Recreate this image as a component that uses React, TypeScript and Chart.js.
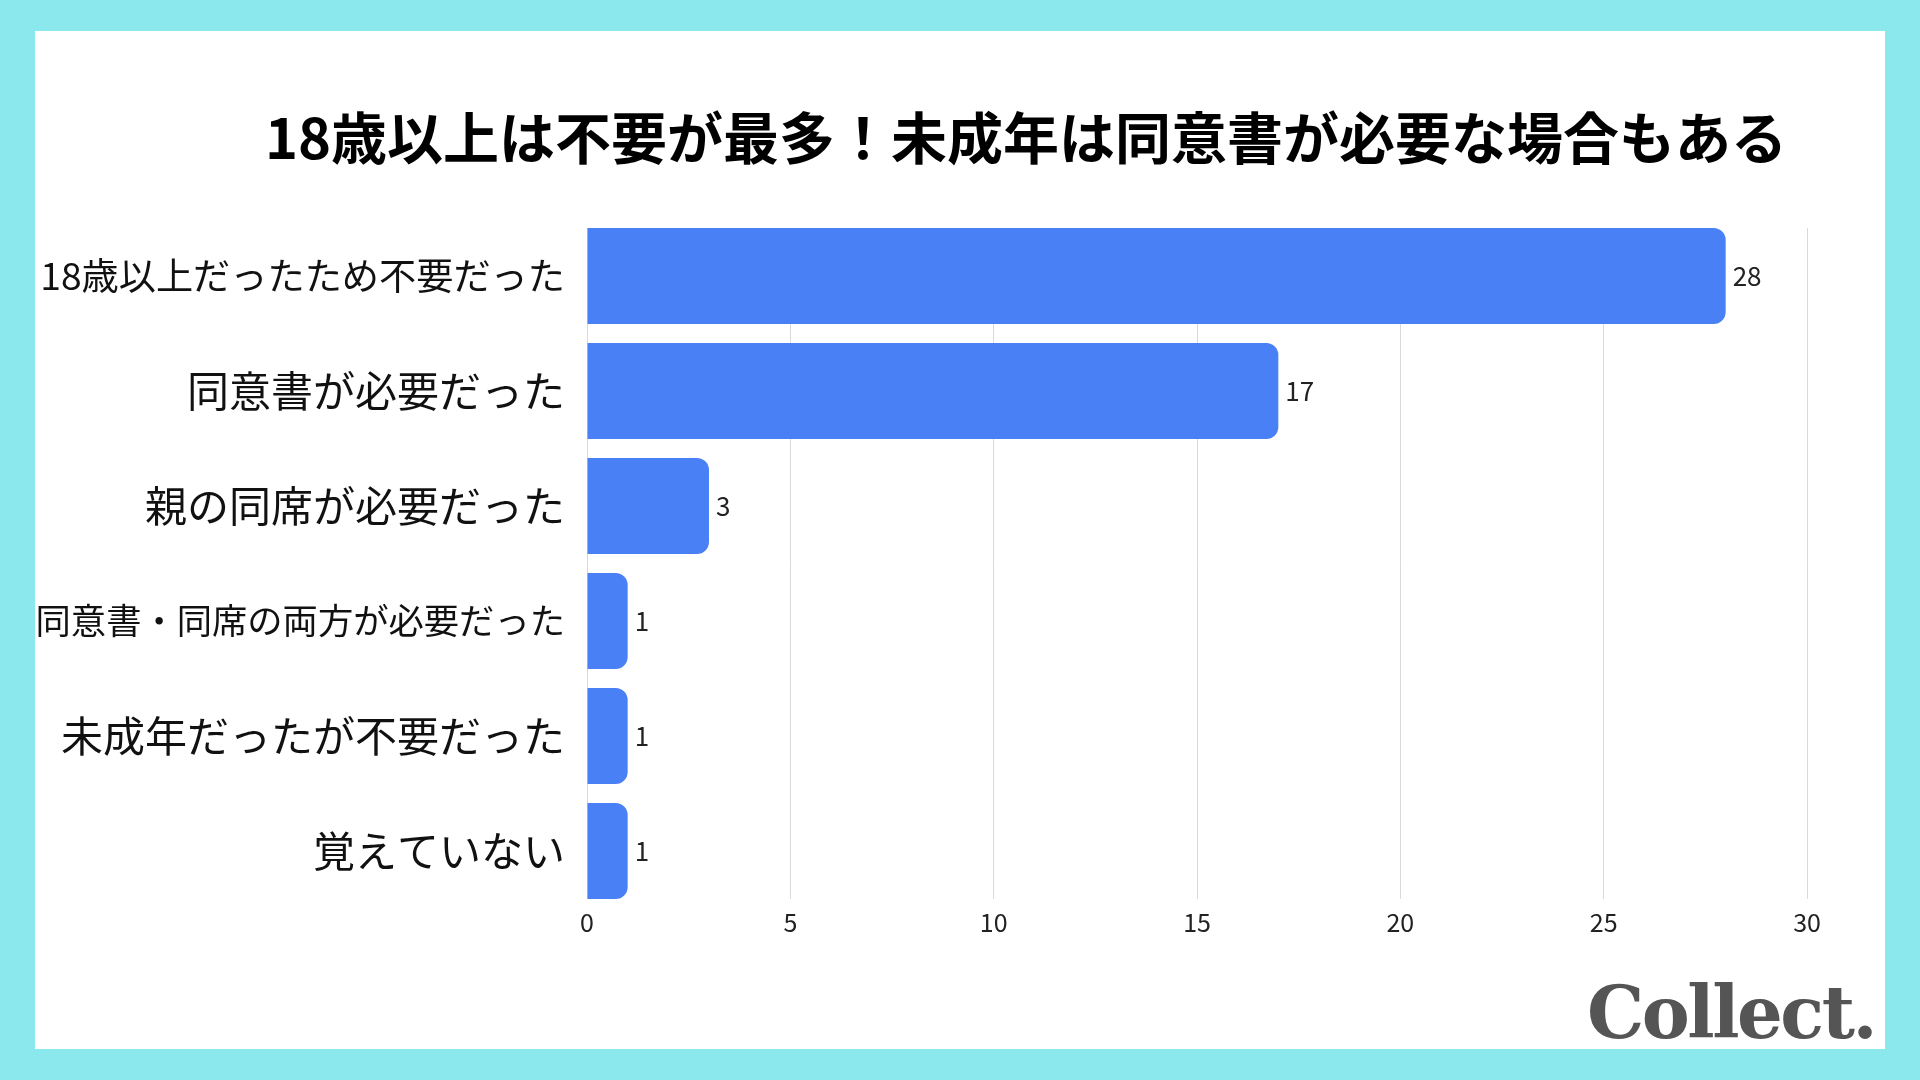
import React, { useEffect, useRef } from "react";
import { Chart, registerables } from "chart.js";

Chart.register(...registerables);

const titleText = "18歳以上は不要が最多！未成年は同意書が必要な場合もある";
const categories = [
  "18歳以上だったため不要だった",
  "同意書が必要だった",
  "親の同席が必要だった",
  "同意書・同席の両方が必要だった",
  "未成年だったが不要だった",
  "覚えていない",
];
const categoryFontSizes = [37.2, 42, 42, 35.3, 42, 42];
const counts = [28, 17, 3, 1, 1, 1];
const xTicks = [0, 5, 10, 15, 20, 25, 30];

const FONT = "'Noto Sans CJK JP', 'Noto Sans', sans-serif";

const valueLabels = {
  id: "valueLabels",
  afterDatasetsDraw(chart: any) {
    const ctx = chart.ctx;
    const meta = chart.getDatasetMeta(0);
    ctx.save();
    ctx.font = `26px ${FONT}`;
    ctx.fillStyle = "#222222";
    ctx.textAlign = "left";
    ctx.textBaseline = "middle";
    meta.data.forEach((bar: any, i: number) => {
      ctx.fillText(String(counts[i]), bar.x + 7, bar.y);
    });
    ctx.restore();
  },
};

export default function App() {
  const ref = useRef<HTMLCanvasElement | null>(null);

  useEffect(() => {
    if (!ref.current) return;
    const chart = new Chart(ref.current, {
      type: "bar",
      data: {
        datasets: [
          {
            data: counts.map((v, i) => ({ x: v, y: i })),
            backgroundColor: "#4A80F6",
            borderWidth: 0,
            borderRadius: 12,
            barPercentage: 0.836,
            categoryPercentage: 1,
          },
        ],
      },
      options: {
        animation: false,
        responsive: false,
        indexAxis: "y",
        layout: { padding: { top: 197, right: 78, left: 0, bottom: 0 } },
        plugins: {
          legend: { display: false },
          tooltip: { enabled: false },
          title: { display: false },
        },
        scales: {
          x: {
            type: "linear",
            min: 0,
            max: 30,
            bounds: "data",
            offset: false,
            afterBuildTicks: (scale: any) => {
              scale.ticks = xTicks.map((v) => ({ value: v }));
            },
            afterFit: (scale: any) => {
              scale.height = 150;
            },
            grid: { color: "#D9D9D9", drawTicks: false, lineWidth: 1, offset: false },
            border: { display: false },
            ticks: {
              padding: 8,
              color: "#222222",
              font: { family: FONT, size: 25 },
            },
          },
          y: {
            type: "linear",
            reverse: true,
            min: -0.418,
            max: 5.418,
            bounds: "data",
            offset: false,
            afterBuildTicks: (scale: any) => {
              scale.ticks = categories.map((_, i) => ({ value: i }));
            },
            afterFit: (scale: any) => {
              scale.width = 552;
            },
            grid: { display: false, drawTicks: false, offset: false },
            border: { display: false },
            ticks: {
              padding: 22,
              color: "#111111",
              autoSkip: false,
              callback: (v: any) => categories[Math.round(Number(v))] ?? "",
              font: (c: any) => ({
                family: FONT,
                size: categoryFontSizes[c.index] ?? 42,
              }),
            },
          },
        },
      },
      plugins: [valueLabels],
    });
    return () => chart.destroy();
  }, []);

  return (
    <div
      style={{
        position: "fixed",
        left: 0,
        top: 0,
        width: 1920,
        height: 1080,
        background: "#8BE9EE",
        overflow: "hidden",
      }}
    >
      <div
        style={{
          position: "absolute",
          left: 35,
          top: 31,
          width: 1850,
          height: 1018,
          background: "#FFFFFF",
        }}
      >
        <canvas ref={ref} width={1850} height={1018} style={{ display: "block" }} />
      </div>
      <div
        style={{
          position: "absolute",
          left: 130,
          width: 1792,
          top: 97,
          textAlign: "center",
          fontFamily: FONT,
          fontWeight: 700,
          fontSize: 56,
          lineHeight: "76px",
          color: "#000000",
          whiteSpace: "nowrap",
        }}
      >
        {titleText}
      </div>
      <div
        style={{
          position: "absolute",
          right: 45,
          top: 968,
          fontFamily: "'DejaVu Serif', serif",
          fontWeight: 700,
          fontSize: 72,
          lineHeight: "90px",
          color: "#555555",
          letterSpacing: -2.5,
          whiteSpace: "nowrap",
        }}
      >
        Collect.
      </div>
    </div>
  );
}
